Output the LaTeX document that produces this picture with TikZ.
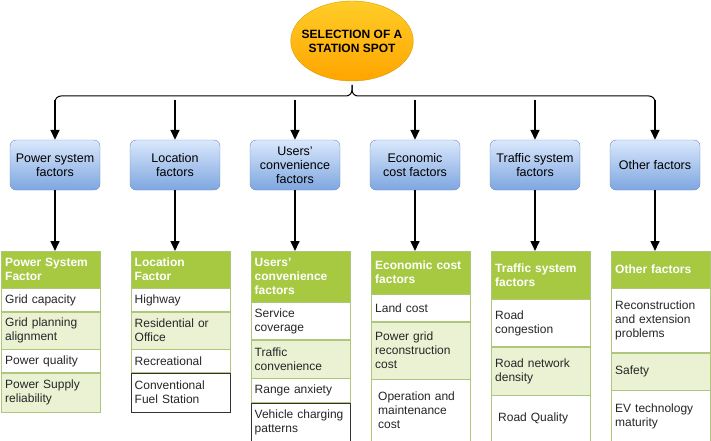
\documentclass[tikz,border=0pt]{standalone}
\usepackage{fontspec}
\setmainfont{Liberation Sans}
\usetikzlibrary{positioning,arrows.meta,shapes.geometric}
\definecolor{hdr}{HTML}{A7C942}
\definecolor{alt}{HTML}{EAF2D3}
\definecolor{edge}{HTML}{AFC77A}
\definecolor{boxtop}{HTML}{DAE8FC}
\definecolor{boxbot}{HTML}{7EA6E0}
\definecolor{boxline}{HTML}{6C8EBF}
\definecolor{goaltop}{HTML}{FFCD28}
\definecolor{goalbot}{HTML}{FFA500}
\definecolor{goalline}{HTML}{D79B00}

\begin{document}
\begin{tikzpicture}[x=1pt,y=-1pt,>={Triangle[width=9pt,length=10pt]},node distance=0pt]
\tikzstyle{goal}=[ellipse,draw=goalline,top color=goaltop,bottom color=goalbot,minimum width=120pt,minimum height=80pt,align=center,inner xsep=-7pt,inner ysep=0pt,font=\fontsize{12}{14}\selectfont\bfseries]
\tikzstyle{cat}=[draw=boxline,rounded corners=6pt,top color=boxtop,bottom color=boxbot,minimum width=90pt,minimum height=50pt,align=center,inner sep=0pt,font=\fontsize{12.5}{14}\selectfont]
\tikzstyle{hd}=[draw=edge,fill=hdr,text=white,text width=91pt,inner xsep=4pt,inner ysep=0pt,align=left,anchor=north west,font=\fontsize{12}{14}\selectfont\bfseries]
\tikzstyle{rw}=[draw=edge,fill=white,text=black!85,text width=91pt,inner xsep=4pt,inner ysep=0pt,align=left,font=\fontsize{12}{14}\selectfont]
\tikzstyle{rg}=[rw,fill=alt]
\tikzstyle{rb}=[rw,draw=black!80]
\tikzstyle{pad}=[inner xsep=7pt,text width=85pt]
\tikzstyle{link}=[->,line width=1.6pt]
\useasboundingbox (0,0) rectangle (711,441);

% goal and category boxes
\node[goal] (top) at (352,41) {SELECTION OF A\\STATION SPOT};
\node[cat] (pw) at (55,165) {Power system\\factors};
\node[cat] (lo) at (175,165) {Location\\factors};
\node[cat] (us) at (295,165) {Users'\\convenience\\factors};
\node[cat] (ec) at (415,165) {Economic\\cost factors};
\node[cat] (tr) at (535,165) {Traffic system\\factors};
\node[cat] (ot) at (655,165) {Other factors};

% brace
\coordinate (tip) at (352,85);
\coordinate (brc) at (352,96);
\coordinate (bend) at (0,108);
\coordinate (bar) at (0,100);
\draw[line width=1pt,rounded corners=6pt] (pw.north |- bend) |- (brc) -- (tip);
\draw[line width=1pt,rounded corners=6pt] (tip) -- (brc) -| (ot.north |- bend);
\foreach \b in {pw,lo,us,ec,tr,ot}
  \draw[link] (\b.north |- bar) -- (\b.north);

% power system
\node[hd,minimum height=37pt] (ph) at (1,251) {Power System\\Factor};
\node[rw,minimum height=23pt,below=of ph] (p1) {Grid capacity};
\node[rg,minimum height=37pt,below=of p1] (p2) {Grid planning\\alignment};
\node[rw,minimum height=23pt,below=of p2] (p3) {Power quality};
\node[rg,minimum height=39pt,below=of p3] (p4) {Power Supply\\reliability};

% location
\node[hd,minimum height=37pt] (lh) at (130.5,251) {Location\\Factor};
\node[rw,minimum height=23pt,below=of lh] (l1) {Highway};
\node[rg,minimum height=37pt,below=of l1] (l2) {Residential or\\Office};
\node[rw,minimum height=23pt,below=of l2] (l3) {Recreational};
\node[rb,minimum height=39pt,below=of l3] (l4) {Conventional\\Fuel Station};

% users
\node[hd,minimum height=51pt] (uh) at (250.5,251) {Users'\\convenience\\factors};
\node[rw,minimum height=37pt,below=of uh] (u1) {Service\\coverage};
\node[rg,minimum height=38pt,below=of u1] (u2) {Traffic\\convenience};
\node[rw,minimum height=24pt,below=of u2] (u3) {Range anxiety};
\node[rb,minimum height=39pt,below=of u3] (u4) {Vehicle charging\\patterns};

% economic cost
\node[hd,minimum height=43pt] (eh) at (371,251) {Economic cost\\factors};
\node[rw,minimum height=27pt,below=of eh] (e1) {Land cost};
\node[rg,minimum height=57pt,below=of e1] (e2) {Power grid\\reconstruction\\cost};
\node[rw,pad,minimum height=62pt,below=of e2] (e3) {Operation and\\maintenance\\cost};

% traffic system
\node[hd,minimum height=48pt] (th) at (491,251) {Traffic system\\factors};
\node[rw,minimum height=47pt,below=of th] (t1) {Road\\congestion};
\node[rg,minimum height=48pt,below=of t1] (t2) {Road network\\density};
\node[rw,pad,minimum height=46pt,below=of t2] (t3) {Road Quality};

% other
\node[hd,minimum height=37pt] (oh) at (611,251) {Other factors};
\node[rw,minimum height=64pt,below=of oh] (o1) {Reconstruction\\and extension\\problems};
\node[rg,minimum height=37pt,below=of o1] (o2) {Safety};
\node[rw,minimum height=51pt,below=of o2] (o3) {EV technology\\maturity};

\draw[link] (pw.south) -- (pw.south |- ph.north);
\draw[link] (lo.south) -- (lo.south |- lh.north);
\draw[link] (us.south) -- (us.south |- uh.north);
\draw[link] (ec.south) -- (ec.south |- eh.north);
\draw[link] (tr.south) -- (tr.south |- th.north);
\draw[link] (ot.south) -- (ot.south |- oh.north);
\end{tikzpicture}
\end{document}
